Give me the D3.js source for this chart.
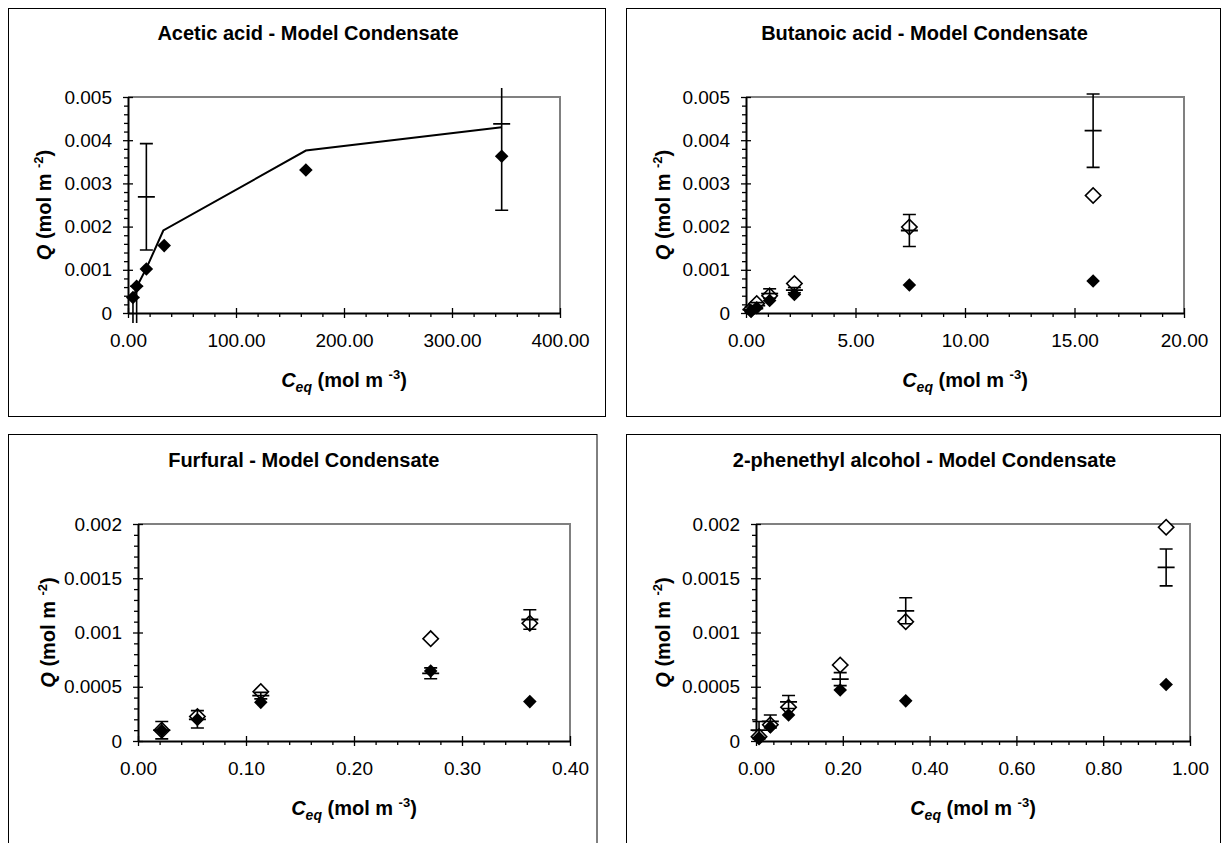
<!DOCTYPE html>
<html><head><meta charset="utf-8">
<script src="https://cdn.jsdelivr.net/npm/d3@7"></script>
<style>
body{margin:0;background:#fff}
svg{display:block}
text{font-family:"Liberation Sans",Arial,sans-serif;fill:#000}
</style>
</head><body>
<svg id="chart" width="1227" height="843"></svg>
<script>
// ---------- DATA ----------
// Acetic acid
const aceticX      = [4.6, 8.0, 17.0, 33.5, 164.7, 346];
const aceticFilled = [0.00036, 0.00062, 0.00102, 0.00156, 0.00331, 0.00363];
const aceticModel  = [0.00030, 0.00065, 0.00105, 0.00191, 0.00376, 0.00430];
const aceticModelX = [4.0, 9.0, 17.3, 32.7, 164.7, 346];
const aceticErrX   = [4.6, 8.0, 17.0, 346];
const aceticErrY   = [-0.0003, -0.0003, 0.00269, 0.00438];
const aceticErrE   = [0.00066, 0.00092, 0.00123, 0.00200];
// Butanoic acid
const butX      = [0.23, 0.49, 1.08, 2.21, 7.46, 15.85];
const butFilled = [0.00005, 0.00012, 0.00029, 0.00043, 0.00065, 0.00074];
const butOpen   = [0.00008, 0.00022, 0.00040, 0.00068, 0.00199, 0.00272];
const butErrY   = [0.00008, 0.00017, 0.00045, 0.00053, 0.00191, 0.00422];
const butErrE   = [0.00006, 0.00007, 0.00011, 0.00006, 0.00037, 0.00085];
// Furfural
const furX      = [0.022, 0.055, 0.1137, 0.271, 0.3628];
const furFilled = [0.000097, 0.000198, 0.000356, 0.000645, 0.000363];
const furOpen   = [0.000100, 0.000225, 0.000455, 0.000943, 0.001085];
const furErrY   = [0.000100, 0.000200, 0.000418, 0.000624, 0.001120];
const furErrE   = [0.000080, 0.000080, 0.000030, 0.000050, 0.000090];
// 2-phenethyl alcohol
const pheX      = [0.007, 0.033, 0.075, 0.194, 0.345, 0.945];
const pheFilled = [0.00003, 0.00013, 0.00024, 0.00047, 0.00037, 0.00052];
const pheOpen   = [0.00004, 0.00015, 0.00031, 0.00070, 0.00110, 0.00197];
const pheErrY   = [0.00010, 0.00018, 0.00036, 0.00057, 0.00120, 0.00160];
const pheErrE   = [0.00008, 0.00006, 0.00006, 0.00006, 0.00012, 0.00017];

// ---------- TICKS ----------
const yTicksA  = [0, 0.001, 0.002, 0.003, 0.004, 0.005];
const yLabelsA = ["0", "0.001", "0.002", "0.003", "0.004", "0.005"];
const yTicksB  = [0, 0.0005, 0.001, 0.0015, 0.002];
const yLabelsB = ["0", "0.0005", "0.001", "0.0015", "0.002"];
const xTicks1  = [0, 100, 200, 300, 400];
const xLabels1 = ["0.00", "100.00", "200.00", "300.00", "400.00"];
const xTicks2  = [0, 5, 10, 15, 20];
const xLabels2 = ["0.00", "5.00", "10.00", "15.00", "20.00"];
const xTicks3  = [0, 0.1, 0.2, 0.3, 0.4];
const xLabels3 = ["0.00", "0.10", "0.20", "0.30", "0.40"];
const xTicks4  = [0, 0.2, 0.4, 0.6, 0.8, 1.0];
const xLabels4 = ["0.00", "0.20", "0.40", "0.60", "0.80", "1.00"];

const titles = ["Acetic acid - Model Condensate", "Butanoic acid - Model Condensate",
                "Furfural - Model Condensate", "2-phenethyl alcohol - Model Condensate"];

const panels = [
  {title: titles[0], box: [8.5, 8.5, 597, 408], plot: [128, 97, 560, 313], ytx: 44,
   xMax: 400, xTicks: xTicks1, xLabels: xLabels1, xMinorStep: 20,
   yMax: 0.005, yTicks: yTicksA, yLabels: yLabelsA, yMinorStep: 0.0002,
   x: aceticX, filled: aceticFilled, open: null, lineX: aceticModelX, line: aceticModel,
   errX: aceticErrX, errY: aceticErrY, errE: aceticErrE},
  {title: titles[1], box: [626.5, 8.5, 594, 408], plot: [746, 97, 1184, 313], ytx: 663,
   xMax: 20, xTicks: xTicks2, xLabels: xLabels2, xMinorStep: 1,
   yMax: 0.005, yTicks: yTicksA, yLabels: yLabelsA, yMinorStep: 0.0002,
   x: butX, filled: butFilled, open: butOpen, line: null,
   errX: butX, errY: butErrY, errE: butErrE},
  {title: titles[2], box: [8.5, 434.5, 588.5, 430], plot: [138, 524, 570, 741], ytx: 48,
   xMax: 0.4, xTicks: xTicks3, xLabels: xLabels3, xMinorStep: 0.02,
   yMax: 0.002, yTicks: yTicksB, yLabels: yLabelsB, yMinorStep: 0.0001,
   x: furX, filled: furFilled, open: furOpen, line: null,
   errX: furX, errY: furErrY, errE: furErrE},
  {title: titles[3], box: [626.5, 434.5, 594, 430], plot: [756, 524, 1190, 741], ytx: 663,
   xMax: 1.0, xTicks: xTicks4, xLabels: xLabels4, xMinorStep: 0.04,
   yMax: 0.002, yTicks: yTicksB, yLabels: yLabelsB, yMinorStep: 0.0001,
   x: pheX, filled: pheFilled, open: pheOpen, line: null,
   errX: pheX, errY: pheErrY, errE: pheErrE}
];

const svg = d3.select("#chart");
const defs = svg.append("defs");
const sqFilled = d3.symbol(d3.symbolSquare).size(92)();
const sqOpen = d3.symbol(d3.symbolSquare).size(118)();

panels.forEach((p, pi) => {
  const [L, T, R, B] = p.plot;
  const g = svg.append("g");
  // outer frame
  g.append("rect").attr("x", p.box[0]).attr("y", p.box[1]).attr("width", p.box[2]).attr("height", p.box[3])
    .attr("fill", "none").attr("stroke", "#000").attr("stroke-width", 1);
  // title
  g.append("text").attr("x", p.box[0] + p.box[2] / 2 + 1).attr("y", T - 57)
    .attr("text-anchor", "middle").attr("font-size", 20).attr("font-weight", "bold").text(p.title);

  const x = d3.scaleLinear().domain([0, p.xMax]).range([L, R]);
  const y = d3.scaleLinear().domain([0, p.yMax]).range([B, T]);

  // plot frame top/right gray
  g.append("path").attr("d", `M${L},${T}H${R}V${B}`).attr("fill", "none")
    .attr("stroke", "#808080").attr("stroke-width", 2);

  // minor ticks
  const xMinor = d3.range(0, p.xMax + p.xMinorStep / 2, p.xMinorStep).filter(v => !p.xTicks.some(t => Math.abs(t - v) < p.xMinorStep / 10));
  const yMinor = d3.range(0, p.yMax + p.yMinorStep / 2, p.yMinorStep).filter(v => !p.yTicks.some(t => Math.abs(t - v) < p.yMinorStep / 10));
  const xm = g.append("g").attr("transform", `translate(0,${B})`)
    .call(d3.axisBottom(x).tickValues(xMinor).tickFormat("").tickSizeInner(4).tickSizeOuter(0));
  xm.select(".domain").remove();
  const ym = g.append("g").attr("transform", `translate(${L},0)`)
    .call(d3.axisLeft(y).tickValues(yMinor).tickFormat("").tickSizeInner(4).tickSizeOuter(0));
  ym.select(".domain").remove();
  [xm, ym].forEach(a => a.selectAll("line").attr("stroke", "#000").attr("stroke-width", 1.3));

  // major axes
  const xa = g.append("g").attr("transform", `translate(0,${B})`)
    .call(d3.axisBottom(x).tickValues(p.xTicks).tickFormat((d, i) => p.xLabels[i]).tickSizeInner(5).tickSizeOuter(0).tickPadding(16));
  xa.selectAll(".tick line").attr("y1", -5).attr("y2", 5).attr("stroke", "#000").attr("stroke-width", 1.3);
  xa.selectAll("text").attr("font-size", 19).attr("font-family", '"Liberation Sans",Arial,sans-serif').attr("fill", "#000");
  const ya = g.append("g").attr("transform", `translate(${L},0)`)
    .call(d3.axisLeft(y).tickValues(p.yTicks).tickFormat((d, i) => p.yLabels[i]).tickSizeInner(5).tickSizeOuter(0).tickPadding(11));
  ya.selectAll(".tick line").attr("x1", -5).attr("x2", 5).attr("stroke", "#000").attr("stroke-width", 1.3);
  ya.selectAll("text").attr("font-size", 19).attr("font-family", '"Liberation Sans",Arial,sans-serif').attr("fill", "#000");
  [xa, ya].forEach(a => a.select(".domain").attr("stroke", "#000").attr("stroke-width", 2));

  // axis titles
  const yt = g.append("text").attr("transform", `translate(${p.ytx + 7},${(T + B) / 2}) rotate(-90)`)
    .attr("text-anchor", "middle").attr("font-size", 20).attr("font-weight", "bold");
  yt.append("tspan").attr("font-style", "italic").text("Q");
  yt.append("tspan").text("  (mol m ");
  yt.append("tspan").attr("font-size", 13).attr("dy", -8).text("-2");
  yt.append("tspan").attr("dy", 8).text(")");
  const xt = g.append("text").attr("x", (L + R) / 2).attr("y", B + 74)
    .attr("text-anchor", "middle").attr("font-size", 20).attr("font-weight", "bold");
  xt.append("tspan").attr("font-style", "italic").text("C");
  xt.append("tspan").attr("font-style", "italic").attr("font-size", 14).attr("dy", 5).text("eq");
  xt.append("tspan").attr("dy", -5).text(" (mol m ");
  xt.append("tspan").attr("font-size", 13).attr("dy", -8).text("-3");
  xt.append("tspan").attr("dy", 8).text(")");

  // model line
  if (p.line) {
    const pts = p.line.map((v, i) => [p.lineX[i], v]);
    g.append("path").datum(pts)
      .attr("d", d3.line().x(d => x(d[0])).y(d => y(d[1])))
      .attr("fill", "none").attr("stroke", "#000").attr("stroke-width", 2);
  }
  // open diamonds
  if (p.open) {
    g.selectAll(null).data(p.open.map((v, i) => [p.x[i], v])).enter().append("path")
      .attr("d", sqOpen)
      .attr("transform", d => `translate(${x(d[0])},${y(d[1])}) rotate(45)`)
      .attr("fill", "#fff").attr("stroke", "#000").attr("stroke-width", 1.6);
  }
  // error series (dash marker + capped error bars), clipped slightly outside the plot
  const cid = "clip" + pi;
  defs.append("clipPath").attr("id", cid).append("rect")
    .attr("x", p.box[0]).attr("y", T - 9).attr("width", p.box[2]).attr("height", B - T + 19);
  const eg = g.append("g").attr("clip-path", `url(#${cid})`);
  const errs = p.errY.map((v, i) => ({x: p.errX[i], c: v, e: p.errE[i]}));
  const drawErr = (grp) => errs.forEach(d => {
    const cx = x(d.x);
    grp.append("line").attr("x1", cx).attr("x2", cx).attr("y1", y(d.c - d.e)).attr("y2", y(d.c + d.e))
      .attr("stroke", "#000").attr("stroke-width", 1.6);
    [d.c - d.e, d.c + d.e].forEach(v => {
      grp.append("line").attr("x1", cx - 6.5).attr("x2", cx + 6.5).attr("y1", y(v)).attr("y2", y(v))
        .attr("stroke", "#000").attr("stroke-width", 1.6);
    });
    grp.append("line").attr("x1", cx - 8.5).attr("x2", cx + 8.5).attr("y1", y(d.c)).attr("y2", y(d.c))
      .attr("stroke", "#000").attr("stroke-width", 1.8);
  });
  if (pi === 0) {
    // in the acetic panel the diamonds sit over the small-point bars
    drawErr(eg);
    g.selectAll(null).data(p.filled.map((v, i) => [p.x[i], v])).enter().append("path")
      .attr("d", sqFilled)
      .attr("transform", d => `translate(${x(d[0])},${y(d[1])}) rotate(45)`)
      .attr("fill", "#000");
  } else {
    g.selectAll(null).data(p.filled.map((v, i) => [p.x[i], v])).enter().append("path")
      .attr("d", sqFilled)
      .attr("transform", d => `translate(${x(d[0])},${y(d[1])}) rotate(45)`)
      .attr("fill", "#000");
    eg.raise();
    drawErr(eg);
  }
});
</script>
</body></html>
